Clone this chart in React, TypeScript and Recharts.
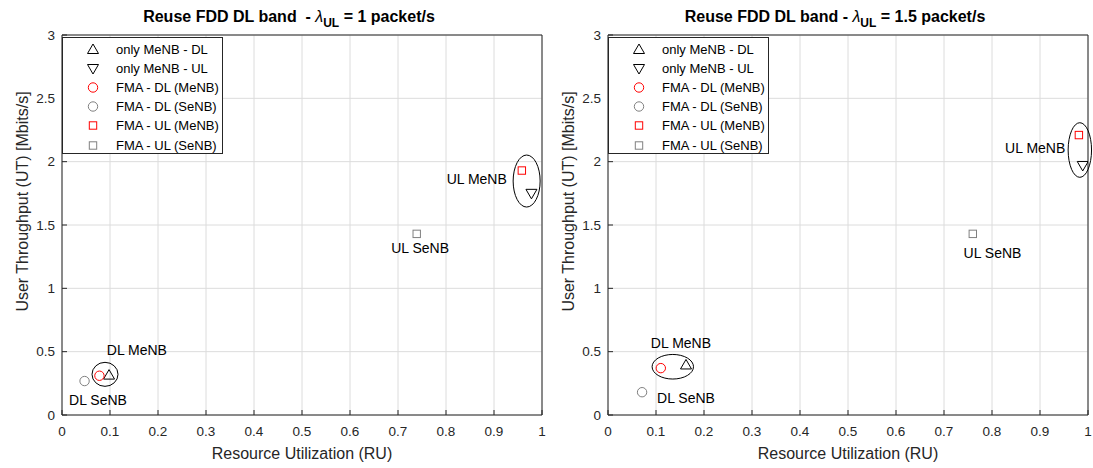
import React from 'react';
import { ScatterChart, Scatter, XAxis, YAxis, CartesianGrid, ReferenceDot, Legend } from 'recharts';

const xTicks = [0, 0.1, 0.2, 0.3, 0.4, 0.5, 0.6, 0.7, 0.8, 0.9, 1];
const yTicks = [0, 0.5, 1, 1.5, 2, 2.5, 3];
const xTickLabels = ['0', '0.1', '0.2', '0.3', '0.4', '0.5', '0.6', '0.7', '0.8', '0.9', '1'];
const yTickLabels = ['0', '0.5', '1', '1.5', '2', '2.5', '3'];
const seriesNames = ['only MeNB - DL', 'only MeNB - UL', 'FMA - DL (MeNB)', 'FMA - DL (SeNB)', 'FMA - UL (MeNB)', 'FMA - UL (SeNB)'];

// Left panel: lambda_UL = 1 packet/s
const leftOnlyDL = [{ x: 0.098, y: 0.315 }];
const leftOnlyUL = [{ x: 0.978, y: 1.75 }];
const leftFmaDLMe = [{ x: 0.078, y: 0.31 }];
const leftFmaDLSe = [{ x: 0.047, y: 0.268 }];
const leftFmaULMe = [{ x: 0.958, y: 1.93 }];
const leftFmaULSe = [{ x: 0.739, y: 1.43 }];
const leftNotes = [
  { x: 0.156, y: 0.513, text: 'DL MeNB' },
  { x: 0.075, y: 0.118, text: 'DL SeNB' },
  { x: 0.864, y: 1.86, text: 'UL MeNB' },
  { x: 0.746, y: 1.318, text: 'UL SeNB' },
];
const leftRings = [{ x: 0.0896, y: 0.321 }, { x: 0.968, y: 1.847 }];

// Right panel: lambda_UL = 1.5 packet/s
const rightOnlyDL = [{ x: 0.1625, y: 0.395 }];
const rightOnlyUL = [{ x: 0.989, y: 1.97 }];
const rightFmaDLMe = [{ x: 0.11, y: 0.37 }];
const rightFmaDLSe = [{ x: 0.071, y: 0.18 }];
const rightFmaULMe = [{ x: 0.981, y: 2.21 }];
const rightFmaULSe = [{ x: 0.76, y: 1.43 }];
const rightNotes = [
  { x: 0.152, y: 0.566, text: 'DL MeNB' },
  { x: 0.1625, y: 0.132, text: 'DL SeNB' },
  { x: 0.89, y: 2.105, text: 'UL MeNB' },
  { x: 0.801, y: 1.281, text: 'UL SeNB' },
];
const rightRings = [{ x: 0.135, y: 0.381 }, { x: 0.983, y: 2.092 }];

// sizes (pixels) of the ellipses, kept apart from data
const leftRingSizes = [{ rx: 13, ry: 12 }, { rx: 13.5, ry: 26 }];
const rightRingSizes = [{ rx: 20.7, ry: 12.3 }, { rx: 11.7, ry: 27.3 }];

const FONT = '"Liberation Sans", Arial, Helvetica, sans-serif';
const TXT = '#262626';

type Kind = 'up' | 'down' | 'circle' | 'square';
const seriesStyle: Record<string, { kind: Kind; color: string }> = {
  'only MeNB - DL': { kind: 'up', color: '#000000' },
  'only MeNB - UL': { kind: 'down', color: '#000000' },
  'FMA - DL (MeNB)': { kind: 'circle', color: '#ff0000' },
  'FMA - DL (SeNB)': { kind: 'circle', color: '#808080' },
  'FMA - UL (MeNB)': { kind: 'square', color: '#ff0000' },
  'FMA - UL (SeNB)': { kind: 'square', color: '#808080' },
};

function Marker({ kind, cx, cy, color }: { kind: Kind; cx: number; cy: number; color: string }) {
  const common = { fill: 'none', stroke: color, strokeWidth: 1 };
  if (kind === 'up') return <path d={`M${cx},${cy - 5.5}L${cx + 5.5},${cy + 4}L${cx - 5.5},${cy + 4}Z`} {...common} />;
  if (kind === 'down') return <path d={`M${cx},${cy + 5.5}L${cx + 5.5},${cy - 4}L${cx - 5.5},${cy - 4}Z`} {...common} />;
  if (kind === 'circle') return <circle cx={cx} cy={cy} r={4.7} {...common} />;
  return <rect x={cx - 3.7} y={cy - 3.7} width={7.4} height={7.4} {...common} />;
}

const shapeFor = (name: string) => (p: any) => {
  const s = seriesStyle[name];
  return <Marker kind={s.kind} cx={p.cx} cy={p.cy} color={s.color} />;
};

function LegendBox(props: any) {
  const present = new Set<string>((props.payload || []).map((e: any) => e.value));
  const names = seriesNames.filter((n) => present.size === 0 || present.has(n));
  return (
    <div style={{ width: 161, height: 117, border: '1px solid #262626', background: '#fff', boxSizing: 'border-box', fontFamily: FONT, fontSize: 13, color: '#000', paddingTop: 2 }}>
      {names.map((name) => {
        const s = seriesStyle[name];
        return (
          <div key={name} style={{ height: 19.1, display: 'flex', alignItems: 'center', whiteSpace: 'nowrap' }}>
            <svg width={53} height={19} style={{ display: 'block' }}>
              <Marker kind={s.kind} cx={30} cy={9.5} color={s.color} />
            </svg>
            <span>{name}</span>
          </div>
        );
      })}
    </div>
  );
}

function YLabel(props: any) {
  const vb = props.viewBox || { x: 0, y: 35, width: 62, height: 380 };
  const cx = vb.x + 22;
  const cy = 201.5;
  return (
    <text x={cx} y={cy} transform={`rotate(-90 ${cx} ${cy})`} textAnchor="middle" dominantBaseline="central" fill={TXT} fontSize={16} fontFamily={FONT}>
      User Throughput (UT) [Mbits/s]
    </text>
  );
}

function XLabel(props: any) {
  const vb = props.viewBox || { x: 62, y: 415, width: 480, height: 53 };
  return (
    <text x={vb.x + vb.width / 2} y={453} textAnchor="middle" dominantBaseline="central" fill={TXT} fontSize={16} fontFamily={FONT}>
      Resource Utilization (RU)
    </text>
  );
}

type Pt = { x: number; y: number };
type PanelProps = {
  width: number;
  title: React.ReactNode;
  series: Pt[][];
  notes: { x: number; y: number; text: string }[];
  rings: Pt[];
  ringSizes: { rx: number; ry: number }[];
};

function Panel({ width, title, series, notes, rings, ringSizes }: PanelProps) {
  const tickStyle = { fill: TXT, fontSize: 13.5, fontFamily: FONT };
  return (
    <div style={{ position: 'relative', width, height: 468 }}>
      <ScatterChart width={width} height={468} margin={{ top: 34, right: width - 542 - 1, bottom: 0, left: 0 }}>
        <CartesianGrid stroke="#dcdcdc" strokeWidth={1} />
        <XAxis
          type="number"
          dataKey="x"
          domain={[0, 1]}
          ticks={xTicks}
          tickFormatter={(v: number) => xTickLabels[xTicks.indexOf(v)] ?? String(v)}
          height={53}
          tickSize={-5}
          tickMargin={16}
          tick={tickStyle}
          stroke="#262626"
          allowDataOverflow
          label={<XLabel />}
        />
        <XAxis xAxisId="top" orientation="top" type="number" domain={[0, 1]} ticks={xTicks} height={1} tickSize={-5} tick={false} stroke="#262626" allowDataOverflow />
        <YAxis
          type="number"
          dataKey="y"
          domain={[0, 3]}
          ticks={yTicks}
          tickFormatter={(v: number) => yTickLabels[yTicks.indexOf(v)] ?? String(v)}
          width={62}
          tickSize={-5}
          tickMargin={12}
          tick={tickStyle}
          stroke="#262626"
          allowDataOverflow
          label={<YLabel />}
        />
        <YAxis yAxisId="right" orientation="right" type="number" domain={[0, 3]} ticks={yTicks} width={1} tickSize={-5} tick={false} stroke="#262626" allowDataOverflow />
        {series.map((d, i) => (
          <Scatter key={seriesNames[i]} name={seriesNames[i]} data={d} isAnimationActive={false} shape={shapeFor(seriesNames[i])} fill={seriesStyle[seriesNames[i]].color} />
        ))}
        {rings.map((r, i) => (
          <ReferenceDot
            key={'ring' + i}
            x={r.x}
            y={r.y}
            r={1}
            ifOverflow="visible"
            shape={(p: any) => <ellipse cx={p.cx} cy={p.cy} rx={ringSizes[i].rx} ry={ringSizes[i].ry} fill="none" stroke="#000" strokeWidth={1} />}
          />
        ))}
        {notes.map((n, i) => (
          <ReferenceDot
            key={'note' + i}
            x={n.x}
            y={n.y}
            r={1}
            ifOverflow="visible"
            shape={(p: any) => (
              <text x={p.cx} y={p.cy} textAnchor="middle" dominantBaseline="central" fill="#000" fontSize={14} fontFamily={FONT}>
                {n.text}
              </text>
            )}
          />
        ))}
        <Legend layout="horizontal" verticalAlign="middle" align="center" wrapperStyle={{ left: 62, top: 37, width: 161, height: 117 }} content={<LegendBox />} />
      </ScatterChart>
      <div style={{ position: 'absolute', left: 0, top: 8.5, width: 578, textAlign: 'center', fontFamily: FONT, fontWeight: 'bold', fontSize: 16, lineHeight: '16px', color: '#000', whiteSpace: 'pre' }}>
        {title}
      </div>
    </div>
  );
}

const Sub = ({ children }: { children: React.ReactNode }) => (
  <span style={{ fontSize: 12, position: 'relative', top: 5 }}>{children}</span>
);

export default function App() {
  return (
    <div style={{ position: 'absolute', left: 0, top: 0, width: 1093, height: 468, background: '#fff', display: 'flex' }}>
      <Panel
        width={546}
        title={<>Reuse FDD DL band  - <span style={{ fontStyle: 'italic', fontWeight: 'normal' }}>λ</span><Sub>UL</Sub> = 1 packet/s</>}
        series={[leftOnlyDL, leftOnlyUL, leftFmaDLMe, leftFmaDLSe, leftFmaULMe, leftFmaULSe]}
        notes={leftNotes}
        rings={leftRings}
        ringSizes={leftRingSizes}
      />
      <Panel
        width={547}
        title={<>Reuse FDD DL band - <span style={{ fontStyle: 'italic', fontWeight: 'normal' }}>λ</span><Sub>UL</Sub> = 1.5 packet/s</>}
        series={[rightOnlyDL, rightOnlyUL, rightFmaDLMe, rightFmaDLSe, rightFmaULMe, rightFmaULSe]}
        notes={rightNotes}
        rings={rightRings}
        ringSizes={rightRingSizes}
      />
    </div>
  );
}
